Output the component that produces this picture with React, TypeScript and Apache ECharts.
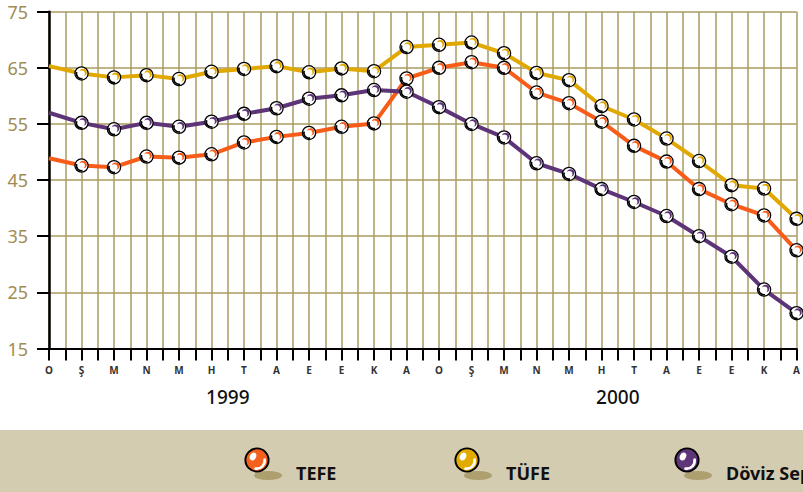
import React, { useEffect, useRef } from "react";
import * as echarts from "echarts";

const months = ["O", "Ş", "M", "N", "M", "H", "T", "A", "E", "E", "K", "A", "O", "Ş", "M", "N", "M", "H", "T", "A", "E", "E", "K", "A"];
const yearLabels = ["1999", "2000"];
const seriesNames = ["TEFE", "TÜFE", "Döviz Sepeti"];
const tefe = [48.9, 47.6, 47.3, 49.2, 49.0, 49.6, 51.7, 52.7, 53.4, 54.5, 55.1, 63.1, 65.0, 66.0, 65.0, 60.6, 58.7, 55.4, 51.1, 48.3, 43.4, 40.7, 38.7, 32.5];
const tufe = [65.3, 64.0, 63.3, 63.7, 63.0, 64.3, 64.8, 65.3, 64.2, 64.9, 64.4, 68.7, 69.1, 69.5, 67.6, 64.1, 62.8, 58.2, 55.8, 52.4, 48.4, 44.1, 43.5, 38.1];
const doviz = [57.0, 55.2, 54.05, 55.2, 54.5, 55.4, 56.8, 57.8, 59.5, 60.1, 61.05, 60.75, 58.0, 55.0, 52.6, 48.0, 46.1, 43.4, 41.1, 38.6, 35.0, 31.35, 25.5, 21.3];

const lineColors = ["#f75c19", "#e0a800", "#5c3477"];
const ballColors = ["#f4601d", "#e2ab00", "#5d3578"];

function svgUri(svg: string) {
  return "image://data:image/svg+xml;charset=utf-8," + encodeURIComponent(svg);
}

function markerIcon(color: string) {
  return svgUri(
    `<svg xmlns='http://www.w3.org/2000/svg' width='16' height='16' viewBox='0 0 16 16'>` +
      `<circle cx='8' cy='8' r='6.6' fill='#ffffff' stroke='#000000' stroke-width='1.3'/>` +
      `<path d='M3.2 6.5 A5 5 0 0 0 9 13.1' fill='none' stroke='#000000' stroke-width='1.6'/>` +
      `<circle cx='9.6' cy='6.9' r='3.7' fill='${color}'/>` +
      `<circle cx='8.3' cy='8.1' r='3.1' fill='#ffffff'/>` +
      `</svg>`
  );
}

function legendIcon(color: string) {
  return svgUri(
    `<svg xmlns='http://www.w3.org/2000/svg' width='47' height='52' viewBox='0 0 47 52'>` +
      `<ellipse cx='24' cy='28.5' rx='14' ry='4.5' fill='#ad9f6e'/>` +
      `<circle cx='13' cy='13' r='11.6' fill='${color}' stroke='#000000' stroke-width='1.9'/>` +
      `<ellipse cx='9' cy='9.5' rx='3.1' ry='4.1' fill='#ffffff' transform='rotate(25 9 9.5)'/>` +
      `<path d='M20.6 12.5 A8 8 0 0 1 11.5 21.6' fill='none' stroke='#ffffff' stroke-width='2.7' stroke-linecap='round'/>` +
      `</svg>`
  );
}

const allValues = [tefe, tufe, doviz];

export default function App() {
  const ref = useRef<HTMLDivElement>(null);
  useEffect(() => {
    if (!ref.current) return;
    const chart = echarts.init(ref.current, null, { renderer: "svg" });
    const font = "Noto Sans";
    const gridColor = "#a99b60";
    const legendLefts = [245, 455, 675];
    chart.setOption({
      animation: false,
      backgroundColor: "#ffffff",
      grid: { left: 49, right: 0, top: 11.7, bottom: 143.5, containLabel: false },
      xAxis: [
        {
          type: "value",
          min: 0,
          max: 23,
          interval: 0.5,
          axisLine: { show: true, lineStyle: { color: "#000", width: 2 } },
          axisTick: { show: true, length: 12, lineStyle: { color: "#000", width: 2 } },
          axisLabel: {
            formatter: (v: number) => (Number.isInteger(v) ? months[v] : ""),
            fontSize: 10,
            fontWeight: "bold",
            color: "#333",
            margin: 16,
            fontFamily: font,
          },
          splitLine: { show: true, lineStyle: { color: gridColor, width: 1.5 } },
        },
        {
          type: "value",
          min: 0,
          max: 23,
          interval: 0.5,
          position: "bottom",
          offset: 0,
          axisLine: { show: false },
          axisTick: { show: false },
          splitLine: { show: false },
          axisLabel: {
            formatter: (v: number) => {
              const k = (v - 5.5) / 12;
              return Number.isInteger(k) && yearLabels[k] ? yearLabels[k] : "";
            },
            fontSize: 19,
            fontWeight: 500,
            color: "#111",
            margin: 39,
            fontFamily: font,
          },
        },
      ],
      yAxis: {
        type: "value",
        min: 15,
        max: 75,
        interval: 10,
        axisLine: { show: true, lineStyle: { color: "#000", width: 2.5 } },
        axisTick: { show: true, length: 12, lineStyle: { color: "#000", width: 2 } },
        axisLabel: { fontSize: 18, color: "#a08c52", margin: 21, fontFamily: font },
        splitLine: { show: true, lineStyle: { color: gridColor, width: 1.5 } },
      },
      legend: seriesNames.map((name, i) => ({
        data: [{ name, icon: legendIcon(ballColors[i]) }],
        left: legendLefts[i] - 1,
        top: 447,
        padding: 0,
        itemWidth: 47,
        itemHeight: 52,
        selectedMode: false,
        textStyle: { fontSize: 18, fontWeight: "bold", color: "#111", fontFamily: font },
      })),
      graphic: [
        {
          type: "rect",
          left: 0,
          top: 430,
          z: -10,
          silent: true,
          shape: { width: 803, height: 62 },
          style: { fill: "#d4ccb1" },
        },
      ],
      series: seriesNames.map((name, i) => ({
        name,
        type: "line",
        xAxisIndex: 0,
        data: allValues[i].map((v, j) => [j, v]),
        color: lineColors[i],
        lineStyle: { width: 4, color: lineColors[i] },
        symbol: (_v: any, params: any) => (params.dataIndex === 0 ? "none" : markerIcon(lineColors[i])),
        symbolSize: 16,
        showSymbol: true,
        z: 2 + i,
      })),
    });
    return () => chart.dispose();
  }, []);
  return (
    <div style={{ position: "fixed", left: 0, top: 0, width: 803, height: 492, overflow: "hidden" }}>
      <div ref={ref} style={{ width: 803, height: 492 }} />
    </div>
  );
}
